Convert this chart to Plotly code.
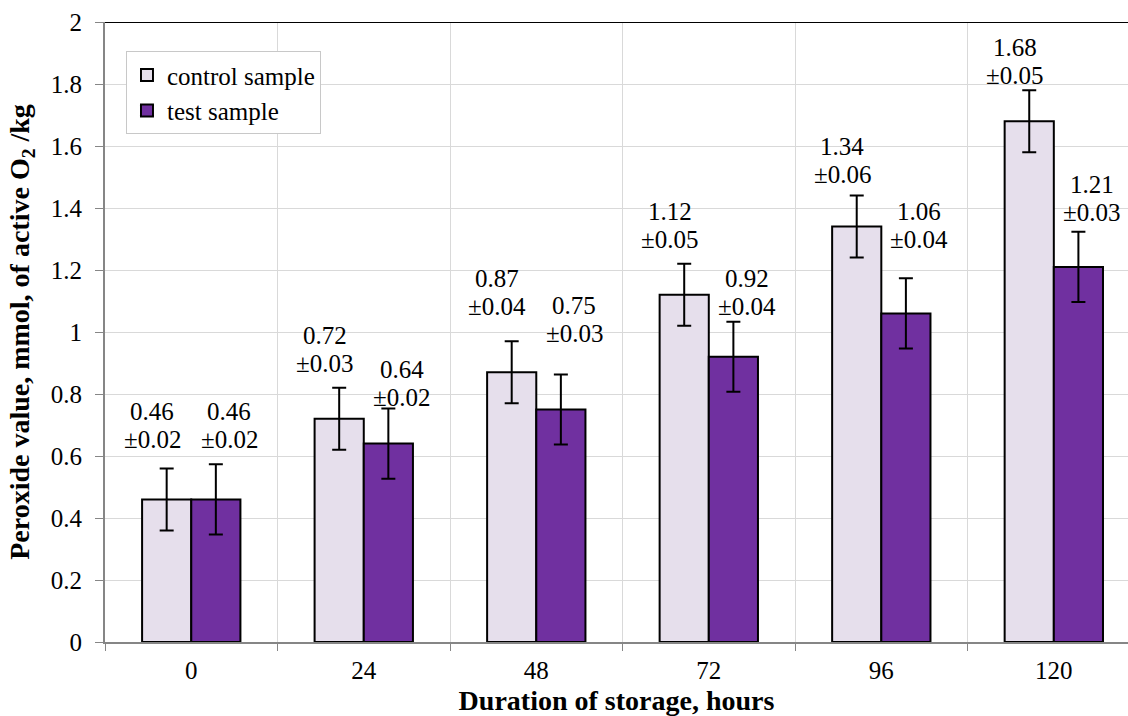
import plotly.graph_objects as go

hours = ["0", "24", "48", "72", "96", "120"]
control = [0.46, 0.72, 0.87, 1.12, 1.34, 1.68]
test = [0.46, 0.64, 0.75, 0.92, 1.06, 1.21]
control_sd_text = ["±0.02", "±0.03", "±0.04", "±0.05", "±0.06", "±0.05"]
test_sd_text = ["±0.02", "±0.02", "±0.03", "±0.04", "±0.04", "±0.03"]
control_err = [0.1] * 6
test_err = [0.113] * 6
# label centre heights (value units) as placed in the original
control_label_y = [0.70, 0.945, 1.129, 1.342, 1.553, 1.871]
test_label_y = [0.70, 0.835, 1.039, 1.129, 1.342, 1.431]

FONT = "Liberation Serif, Times New Roman, serif"
FS = 25

fig = go.Figure()
fig.add_trace(go.Bar(
    x=hours, y=control, name="control sample",
    marker=dict(color="#E6DFEC", line=dict(color="black", width=2)),
    error_y=dict(type="data", array=control_err, color="black", thickness=2, width=7),
))
fig.add_trace(go.Bar(
    x=hours, y=test, name="test sample",
    marker=dict(color="#7030A0", line=dict(color="black", width=2)),
    error_y=dict(type="data", array=test_err, color="black", thickness=2, width=7),
))

def add_label(i, yv, top, bottom, xshift):
    for txt, ys in ((top, 14), (bottom, -14)):
        fig.add_annotation(x=i, y=yv, xref="x", yref="y", text=txt,
                           showarrow=False, xshift=xshift, yshift=ys,
                           yanchor="middle", xanchor="center",
                           font=dict(family=FONT, size=FS, color="black"))

for i in range(len(hours)):
    add_label(i, control_label_y[i], f"{control[i]:.2f}", control_sd_text[i], -39)
    add_label(i, test_label_y[i], f"{test[i]:.2f}", test_sd_text[i], 38)

fig.add_shape(type="line", xref="paper", yref="y", x0=0, x1=1, y0=2, y1=2,
              line=dict(color="black", width=2))

fig.update_layout(
    width=1128, height=716,
    margin=dict(l=105, r=0, t=22, b=74),
    paper_bgcolor="white", plot_bgcolor="white",
    barmode="group", bargap=0.43, bargroupgap=0,
    font=dict(family=FONT, size=FS, color="black"),
    showlegend=True,
    legend=dict(x=0.0205, y=0.953, xanchor="left", yanchor="top",
                bgcolor="white", bordercolor="#c8c8c8", borderwidth=1,
                font=dict(family=FONT, size=FS, color="black"),
                tracegroupgap=0, itemwidth=30),
    xaxis=dict(type="category", range=[-0.5, 5.43], tickson="boundaries",
               ticks="outside", ticklen=7, tickcolor="#868686", tickwidth=1,
               ticklabelstandoff=5,
               showgrid=True, gridcolor="#d9d9d9", gridwidth=1,
               showline=True, linecolor="#868686", linewidth=2,
               tickfont=dict(family=FONT, size=FS),
               title=dict(text="<b>Duration of storage, hours</b>",
                          font=dict(family=FONT, size=28), standoff=13)),
    yaxis=dict(range=[0, 2], dtick=0.2, tickformat="~g",
               ticks="outside", ticklen=8, tickcolor="#868686", tickwidth=1,
               ticklabelstandoff=8,
               showgrid=True, gridcolor="#d9d9d9", gridwidth=1,
               showline=True, linecolor="#868686", linewidth=2,
               zeroline=False,
               tickfont=dict(family=FONT, size=FS),
               title=dict(text="<b>Peroxide value, mmol, of active O<sub>2</sub> /kg</b>",
                          font=dict(family=FONT, size=28), standoff=13)),
)

fig.write_html("out.html", config={"displayModeBar": False},
               post_script="document.body.style.margin='0';document.body.style.overflow='hidden';")
